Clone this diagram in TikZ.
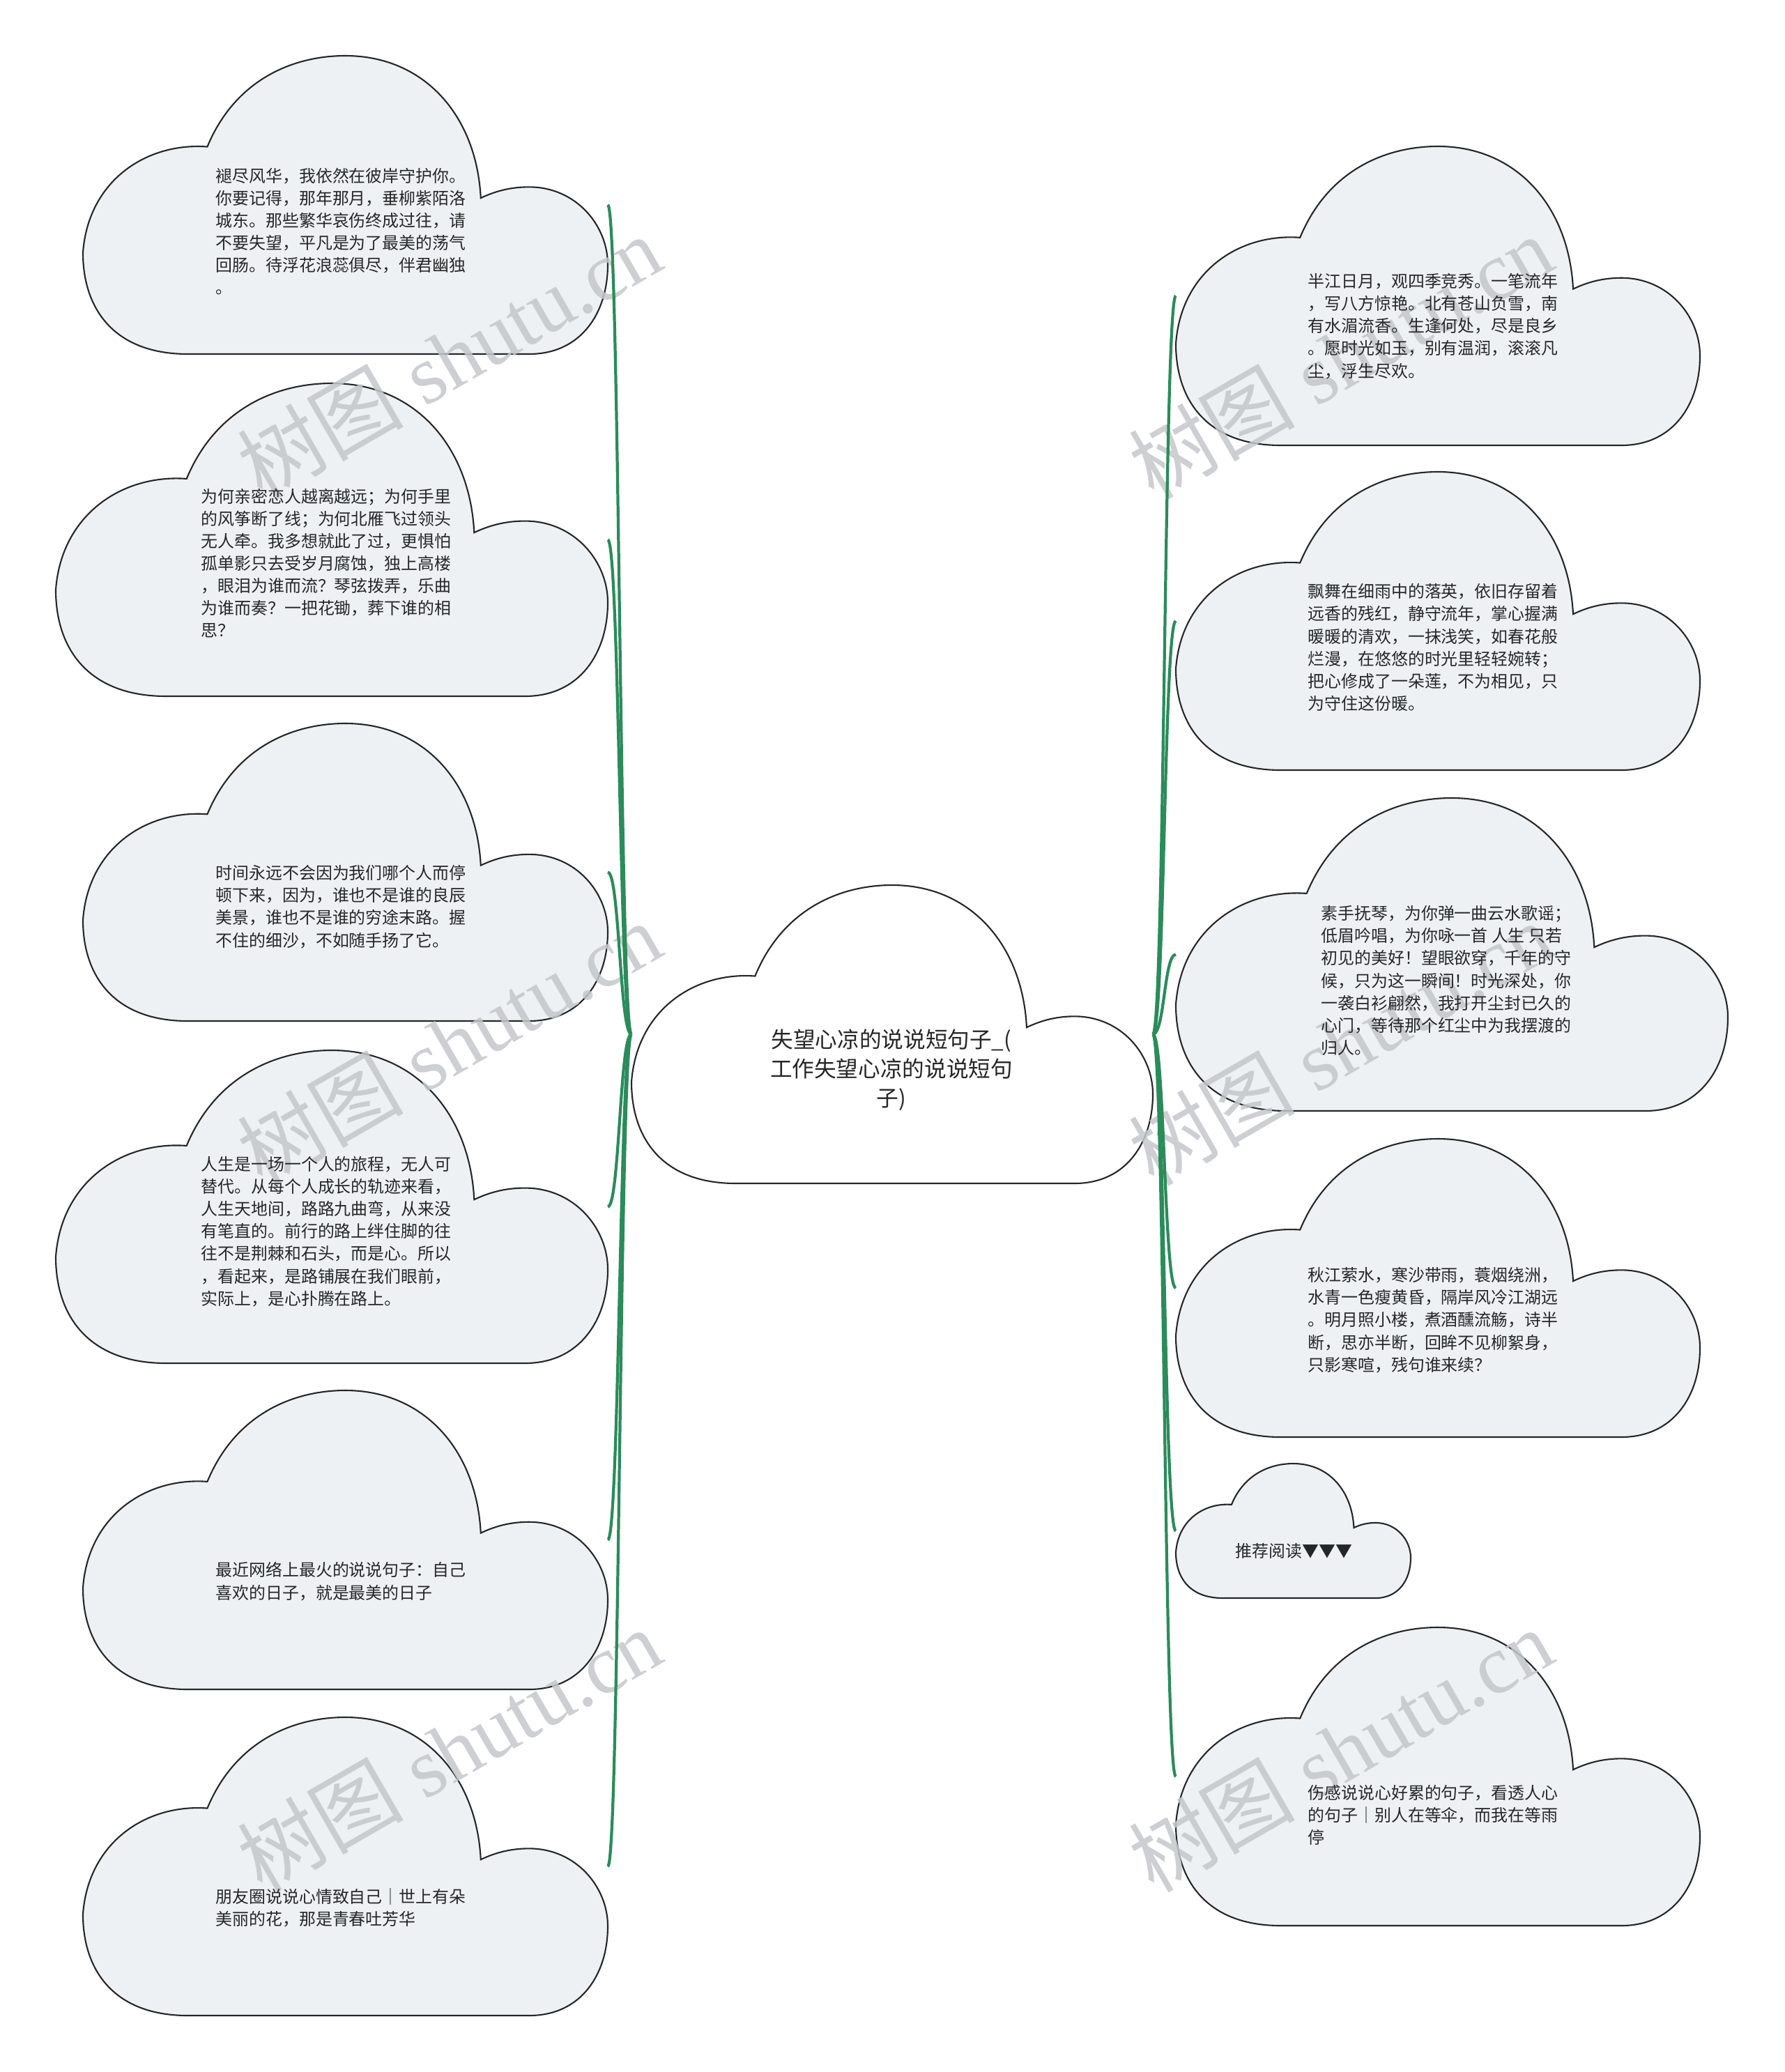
\documentclass[tikz,border=0pt]{standalone}
\usepackage{fontspec}
\usepackage{xcolor}
\setmainfont{Noto Sans CJK SC}
\newfontfamily\wmfont{Liberation Serif}
\newfontfamily\wmcjk{Noto Sans CJK SC}
\definecolor{cloudfill}{HTML}{EEF1F4}
\definecolor{branchgreen}{HTML}{2A8C5A}
\definecolor{wmgray}{HTML}{C4C7CA}

% cloud outline: name, x, y (top left), width, height, fill
\newcommand{\cloudat}[6]{%
  \begin{scope}[shift={(#2,#3)}, xscale=#4, yscale=-#5]
    \draw[cloudline, fill=#6] (0.2,1) .. controls (0.06,1) and (0,0.85) .. (0,0.66)
      .. controls (0.01,0.42) and (0.12,0.29) .. (0.237,0.305)
      .. controls (0.29,0.08) and (0.40,0) .. (0.5,0)
      .. controls (0.65,0) and (0.75,0.2) .. (0.758,0.477)
      .. controls (0.79,0.45) and (0.82,0.44) .. (0.85,0.44)
      .. controls (0.94,0.44) and (1,0.57) .. (1,0.70)
      .. controls (1,0.86) and (0.95,1) .. (0.85,1) -- cycle;
    \coordinate (#1-w) at (0,0.5);
    \coordinate (#1-e) at (1,0.5);
  \end{scope}}

\begin{document}
\begin{tikzpicture}[
  cloudline/.style={draw=black!85, line width=0.6pt},
  branch/.style={draw=branchgreen, line width=1.2pt},
  leaftext/.style={anchor=west, inner sep=0pt, align=left, text=black!85,
    font=\fontsize{6.8}{9.15}\selectfont},
  maintext/.style={inner sep=0pt, align=center, text=black!85,
    font=\fontsize{9}{11.9}\selectfont},
  watermark/.style={text=wmgray, opacity=0.85, rotate=30,
    font=\wmfont\fontsize{34}{34}\selectfont}
]
\useasboundingbox (0,0) rectangle (25.6,-29.73);

% Clouds
\cloudat{l1}{1.19}{-0.80}{7.53}{4.28}{cloudfill}
\cloudat{l2}{0.80}{-5.50}{7.92}{4.49}{cloudfill}
\cloudat{l3}{1.19}{-10.38}{7.53}{4.27}{cloudfill}
\cloudat{l4}{0.80}{-15.07}{7.92}{4.49}{cloudfill}
\cloudat{l5}{1.19}{-19.95}{7.53}{4.29}{cloudfill}
\cloudat{l6}{1.19}{-24.64}{7.53}{4.28}{cloudfill}
\cloudat{c}{9.06}{-12.70}{7.48}{4.28}{white}
\cloudat{r1}{16.87}{-2.10}{7.52}{4.29}{cloudfill}
\cloudat{r2}{16.87}{-6.77}{7.52}{4.28}{cloudfill}
\cloudat{r3}{16.87}{-11.45}{7.92}{4.49}{cloudfill}
\cloudat{r4}{16.87}{-16.34}{7.52}{4.28}{cloudfill}
\cloudat{r5}{16.87}{-21.00}{3.37}{1.93}{cloudfill}
\cloudat{r6}{16.87}{-23.35}{7.52}{4.28}{cloudfill}

% Watermarks
\foreach \wx/\wy in {6.44/-5.12, 6.44/-14.97, 6.44/-25.11, 19.23/-5.12, 19.23/-14.97, 19.23/-25.11}
  \node[watermark] at (\wx,\wy) {{\wmcjk 树图} shutu.cn};

% Branches
\foreach \leaf in {l1,l2,l3,l4,l5,l6}
  \draw[branch] (c-w) .. controls +(-0.17,0) and +(0.17,0) .. (\leaf-e);
\foreach \leaf in {r1,r2,r3,r4,r5,r6}
  \draw[branch] (c-e) .. controls +(0.17,0) and +(-0.17,0) .. (\leaf-w);

% Texts
\node[maintext] (main) at (12.79,-15.35) {失望心凉的说说短句子\_(\\工作失望心凉的说说短句\\子)};
\node[leaftext] (t1) at (3.09,-3.32) {褪尽风华，我依然在彼岸守护你。\\你要记得，那年那月，垂柳紫陌洛\\城东。那些繁华哀伤终成过往，请\\不要失望，平凡是为了最美的荡气\\回肠。待浮花浪蕊俱尽，伴君幽独\\。};
\node[leaftext] (t2) at (2.88,-8.08) {为何亲密恋人越离越远；为何手里\\的风筝断了线；为何北雁飞过领头\\无人牵。我多想就此了过，更惧怕\\孤单影只去受岁月腐蚀，独上高楼\\，眼泪为谁而流？琴弦拨弄，乐曲\\为谁而奏？一把花锄，葬下谁的相\\思？};
\node[leaftext] (t3) at (3.09,-13.01) {时间永远不会因为我们哪个人而停\\顿下来，因为，谁也不是谁的良辰\\美景，谁也不是谁的穷途末路。握\\不住的细沙，不如随手扬了它。};
\node[leaftext] (t4) at (2.88,-17.67) {人生是一场一个人的旅程，无人可\\替代。从每个人成长的轨迹来看，\\人生天地间，路路九曲弯，从来没\\有笔直的。前行的路上绊住脚的往\\往不是荆棘和石头，而是心。所以\\，看起来，是路铺展在我们眼前，\\实际上，是心扑腾在路上。};
\node[leaftext] (t5) at (3.09,-22.69) {最近网络上最火的说说句子：自己\\喜欢的日子，就是最美的日子};
\node[leaftext] (t6) at (3.09,-27.37) {朋友圈说说心情致自己｜世上有朵\\美丽的花，那是青春吐芳华};
\node[leaftext] (s1) at (18.76,-4.68) {半江日月，观四季竞秀。一笔流年\\，写八方惊艳。北有苍山负雪，南\\有水湄流香。生逢何处，尽是良乡\\。愿时光如玉，别有温润，滚滚凡\\尘，浮生尽欢。};
\node[leaftext] (s2) at (18.76,-9.29) {飘舞在细雨中的落英，依旧存留着\\远香的残红，静守流年，掌心握满\\暖暖的清欢，一抹浅笑，如春花般\\烂漫，在悠悠的时光里轻轻婉转；\\把心修成了一朵莲，不为相见，只\\为守住这份暖。};
\node[leaftext] (s3) at (18.95,-14.07) {素手抚琴，为你弹一曲云水歌谣；\\低眉吟唱，为你咏一首 人生 只若\\初见的美好！望眼欲穿，千年的守\\候，只为这一瞬间！时光深处，你\\一袭白衫翩然，我打开尘封已久的\\心门，等待那个红尘中为我摆渡的\\归人。};
\node[leaftext] (s4) at (18.76,-18.94) {秋江萦水，寒沙带雨，蓑烟绕洲，\\水青一色瘦黄昏，隔岸风冷江湖远\\。明月照小楼，煮酒醺流觞，诗半\\断，思亦半断，回眸不见柳絮身，\\只影寒喧，残句谁来续？};
\node[leaftext] (s5) at (17.72,-22.25) {推荐阅读▼▼▼};
\node[leaftext] (s6) at (18.76,-26.04) {伤感说说心好累的句子，看透人心\\的句子｜别人在等伞，而我在等雨\\停};
\end{tikzpicture}
\end{document}
